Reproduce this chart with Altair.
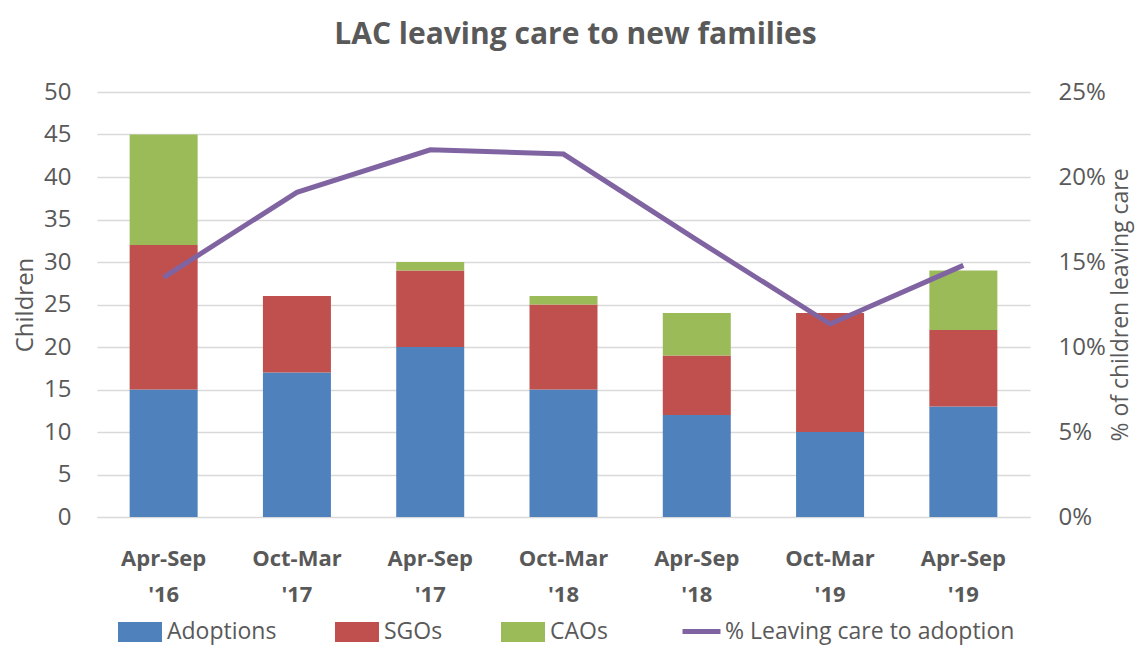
import altair as alt
import pandas as pd

periods = ["Apr-Sep '16", "Oct-Mar '17", "Apr-Sep '17", "Oct-Mar '18",
           "Apr-Sep '18", "Oct-Mar '19", "Apr-Sep '19"]
adoptions = [15, 17, 20, 15, 12, 10, 13]
sgos = [17, 9, 9, 10, 7, 14, 9]
caos = [13, 0, 1, 1, 5, 0, 7]
pct_adoption = [14.1, 19.1, 21.6, 21.35, 16.3, 11.35, 14.8]

series_names = ["Adoptions", "SGOs", "CAOs"]
series_colors = ["#4F81BD", "#C0504D", "#9BBB59"]
line_name = "% Leaving care to adoption"

rows = []
for p, a, s, c in zip(periods, adoptions, sgos, caos):
    for i, (name, v) in enumerate(zip(series_names, [a, s, c])):
        rows.append({"period": p, "type": name, "value": v, "ord": i})
bars_df = pd.DataFrame(rows)
line_df = pd.DataFrame({"period": periods,
                        "pct": [v / 100 for v in pct_adoption],
                        "series": [line_name] * len(periods)})

FONT = "Open Sans"
GREY = "#595959"
RECT = "M-1,-0.45H1V0.45H-1Z"

x_enc = alt.X("period:N", sort=periods,
              scale=alt.Scale(paddingInner=0.49, paddingOuter=0.245),
              axis=alt.Axis(title=None, labelAngle=0,
                            labelExpr="split(datum.label, ' ')",
                            labelFontSize=22, labelFontWeight="bold",
                            labelColor=GREY, labelLineHeight=36,
                            labelPadding=31, ticks=False,
                            domainColor="#D9D9D9", labelFont=FONT))

bars = alt.Chart(bars_df).mark_bar(size=68).encode(
    x=x_enc,
    y=alt.Y("value:Q", stack="zero",
            scale=alt.Scale(domain=[0, 50], nice=False),
            axis=alt.Axis(title="Children", values=list(range(0, 51, 5)),
                          labelFontSize=24, labelColor=GREY, labelFont=FONT,
                          titleFontSize=24, titleColor=GREY, titleFont=FONT,
                          titleFontWeight="normal", titlePadding=6,
                          grid=True, gridColor="#D9D9D9", gridWidth=1.5,
                          domain=False, ticks=False, labelPadding=26)),
    color=alt.Color("type:N", sort=series_names,
                    scale=alt.Scale(domain=series_names, range=series_colors),
                    legend=alt.Legend(title=None, orient="none", direction="horizontal",
                                      legendX=21, legendY=518,
                                      symbolType=RECT, symbolSize=1936,
                                      symbolStrokeWidth=0,
                                      labelFontSize=23, labelColor=GREY, labelFont=FONT,
                                      labelOffset=5, columnPadding=58)),
    order=alt.Order("ord:Q", sort="ascending"),
)

line = alt.Chart(line_df).mark_line(strokeWidth=5).encode(
    x=alt.X("period:N", sort=periods),
    y=alt.Y("pct:Q", scale=alt.Scale(domain=[0, 0.25], nice=False),
            axis=alt.Axis(title="% of children leaving care", orient="right",
                          format="%", values=[0, 0.05, 0.1, 0.15, 0.2, 0.25],
                          labelFontSize=24, labelColor=GREY, labelFont=FONT,
                          titleFontSize=23, titleColor=GREY, titleFont=FONT,
                          titleFontWeight="normal", titlePadding=4,
                          titleAngle=270, titleBaseline="top",
                          grid=False, domain=False, ticks=False, labelPadding=28)),
    stroke=alt.Stroke("series:N",
                      scale=alt.Scale(domain=[line_name], range=["#8064A2"]),
                      legend=alt.Legend(title=None, orient="none",
                                        legendX=583, legendY=518,
                                        symbolType="stroke", symbolSize=1444,
                                        symbolStrokeWidth=5, labelLimit=500,
                                        labelFontSize=23, labelColor=GREY,
                                        labelFont=FONT, labelOffset=2)),
)

chart = alt.layer(bars, line).resolve_scale(y="independent").properties(
    width=933, height=425,
    title=alt.TitleParams("LAC leaving care to new families", fontSize=30,
                          fontWeight="bold", color=GREY, font=FONT, offset=30,
                          dx=12),
    autosize=alt.AutoSizeParams(type="none"),
    padding={"left": 89, "top": 84, "right": 108, "bottom": 128},
    background="white",
).configure_view(stroke=None)

chart.save("out.html", embed_options={"renderer": "svg", "actions": False})
